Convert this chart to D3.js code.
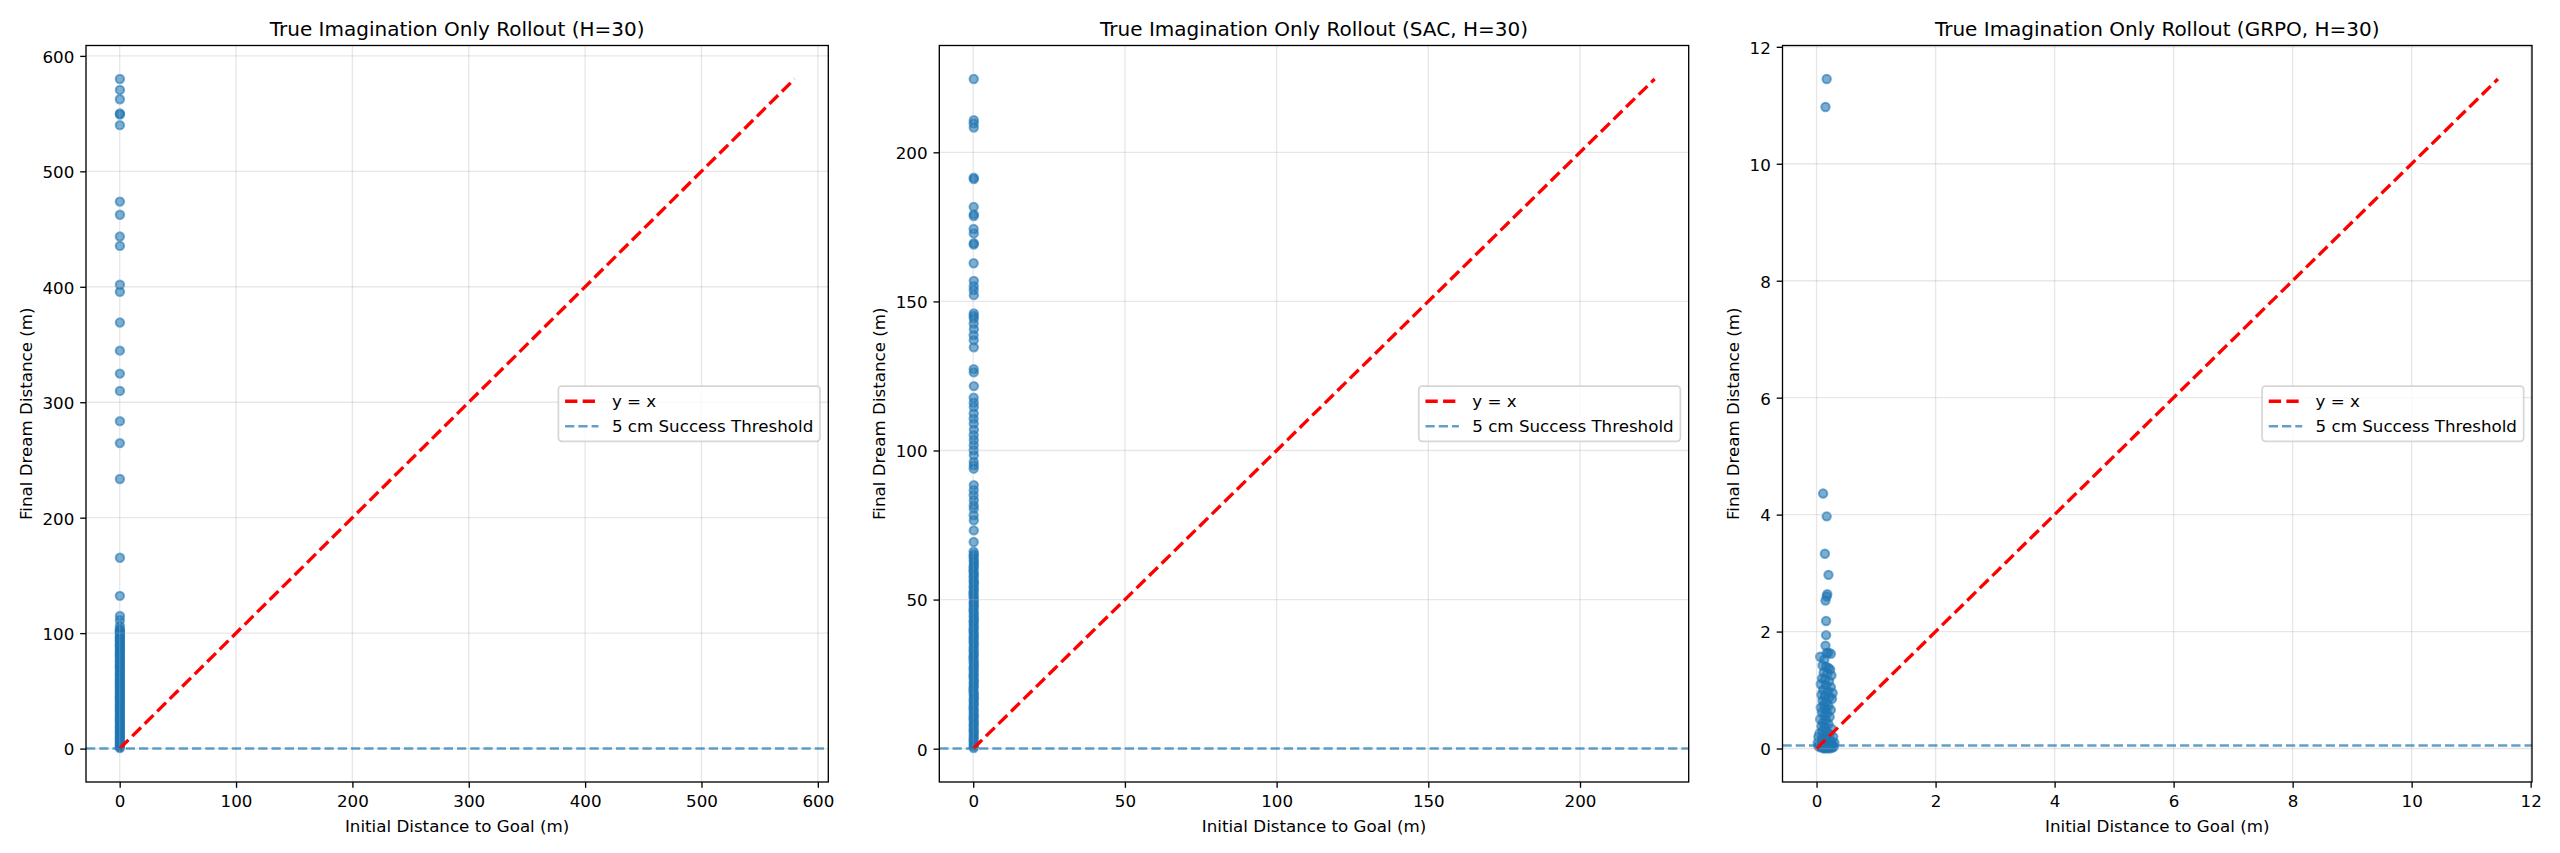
<!DOCTYPE html>
<html>
<head>
<meta charset="utf-8">
<script src="https://cdn.jsdelivr.net/npm/d3@7"></script>
<style>
  body { margin: 0; background: #fff; }
  text { font-family: "DejaVu Sans", sans-serif; }
</style>
</head>
<body>
<svg id="chart" width="2560" height="853"></svg>
<script>
// ---- data ----
const titles = [
  "True Imagination Only Rollout (H=30)",
  "True Imagination Only Rollout (SAC, H=30)",
  "True Imagination Only Rollout (GRPO, H=30)"
];
const xLabel = "Initial Distance to Goal (m)";
const yLabel = "Final Dream Distance (m)";
const legendLabels = ["y = x", "5 cm Success Threshold"];
const successThreshold = 0.05; // 5 cm

const ticks1 = [0, 100, 200, 300, 400, 500, 600];
const ticks2 = [0, 50, 100, 150, 200];
const ticks3 = [0, 2, 4, 6, 8, 10, 12];

// [initial distance, final dream distance]
const rolloutBase = [
  [0.18, 580], [0.21, 570.5], [0.15, 562.4], [0.19, 550.1], [0.2, 549.2], [0.17, 540],
  [0.16, 473.8], [0.22, 462.4], [0.14, 443.5], [0.19, 435.4], [0.2, 401.8], [0.18, 395.7],
  [0.21, 369], [0.15, 344.7], [0.17, 324.8], [0.2, 309.8], [0.19, 283.6], [0.16, 264.6],
  [0.18, 233.5], [0.2, 165.3], [0.15, 132.3], [0.22, 114.8], [0.17, 111.1], [0.19, 106.2],
  [0.12, 103.4], [0.25, 102.6], [0.09, 101.1], [0.2, 100.3], [0.16, 99.2], [0.28, 97.8],
  [0.13, 96.5], [0.21, 95.9], [0.07, 94.1], [0.18, 93.0], [0.24, 91.7], [0.11, 90.2],
  [0.19, 89.5], [0.15, 88.1], [0.27, 86.6], [0.1, 85.3], [0.22, 84.0], [0.17, 82.9],
  [0.05, 81.2], [0.2, 80.1], [0.14, 78.8], [0.26, 77.5], [0.12, 76.0], [0.18, 74.9],
  [0.23, 73.3], [0.08, 72.0], [0.16, 70.6], [0.21, 69.8], [0.13, 68.2], [0.29, 66.9],
  [0.1, 65.4], [0.19, 64.1], [0.15, 62.9], [0.24, 61.5], [0.06, 60.0], [0.17, 58.8],
  [0.22, 57.2], [0.12, 56.1], [0.2, 54.6], [0.09, 53.3], [0.26, 52.0], [0.14, 50.7],
  [0.18, 49.1], [0.11, 47.9], [0.23, 46.4], [0.16, 45.2], [0.07, 43.8], [0.2, 42.5],
  [0.13, 41.0], [0.27, 39.7], [0.1, 38.3], [0.19, 37.0], [0.15, 35.6], [0.22, 34.2],
  [0.08, 33.1], [0.17, 31.6], [0.25, 30.3], [0.12, 28.9], [0.2, 27.5], [0.14, 26.4],
  [0.06, 24.8], [0.21, 23.6], [0.16, 22.1], [0.28, 20.9], [0.11, 19.4], [0.18, 18.0],
  [0.23, 16.8], [0.09, 15.3], [0.15, 14.1], [0.2, 12.6], [0.13, 11.2], [0.26, 10.0],
  [0.07, 8.7], [0.17, 7.3], [0.22, 6.1], [0.12, 4.8], [0.19, 3.5], [0.1, 2.4],
  [0.24, 1.2], [0.15, 0.4]
];

const rolloutSac = [
  [0.18, 224.6], [0.2, 210.8], [0.15, 209.7], [0.19, 208.3], [0.17, 191.5], [0.21, 191.0],
  [0.16, 181.7], [0.2, 179.2], [0.18, 178.6], [0.14, 174.3], [0.19, 172.8], [0.22, 169.5],
  [0.17, 169.1], [0.15, 162.8], [0.2, 156.9], [0.18, 155.1], [0.16, 153.8], [0.21, 152.1],
  [0.19, 146.0], [0.15, 145.1], [0.2, 144.3], [0.17, 142.6], [0.22, 140.7], [0.14, 138.7],
  [0.18, 137.0], [0.2, 134.6], [0.16, 127.3], [0.19, 126.2], [0.21, 121.6], [0.15, 117.7],
  [0.18, 116.0], [0.2, 114.6], [0.17, 112.4], [0.14, 110.7], [0.19, 109.0], [0.22, 107.0],
  [0.16, 105.1], [0.2, 103.5], [0.18, 101.8], [0.15, 100.1], [0.21, 98.4], [0.17, 96.2],
  [0.19, 95.0], [0.16, 93.9], [0.2, 88.4], [0.18, 86.7], [0.14, 85.0], [0.21, 83.3],
  [0.17, 81.6], [0.19, 80.5], [0.15, 78.3], [0.2, 76.6], [0.18, 73.2], [0.16, 69.3],
  [0.12, 66.1], [0.25, 65.2], [0.09, 64.6], [0.2, 63.7], [0.16, 62.9], [0.27, 62.2],
  [0.13, 61.3], [0.21, 60.7], [0.07, 59.8], [0.18, 59.0], [0.24, 58.3], [0.11, 57.6],
  [0.19, 56.6], [0.15, 55.9], [0.28, 55.3], [0.1, 54.4], [0.22, 53.6], [0.17, 52.8],
  [0.05, 52.1], [0.2, 51.3], [0.14, 50.7], [0.26, 49.7], [0.12, 49.0], [0.18, 48.2],
  [0.23, 47.6], [0.08, 46.7], [0.16, 45.9], [0.21, 45.2], [0.13, 44.3], [0.29, 43.5],
  [0.1, 42.8], [0.19, 42.1], [0.15, 41.2], [0.24, 40.4], [0.06, 39.7], [0.17, 38.8],
  [0.22, 38.1], [0.12, 37.3], [0.2, 36.7], [0.09, 35.8], [0.26, 35.1], [0.14, 34.2],
  [0.18, 33.4], [0.11, 32.7], [0.23, 31.8], [0.16, 31.1], [0.07, 30.5], [0.2, 29.6],
  [0.13, 28.9], [0.27, 28.0], [0.1, 27.2], [0.19, 26.6], [0.15, 25.7], [0.22, 24.9],
  [0.08, 24.3], [0.17, 23.4], [0.25, 22.6], [0.12, 21.9], [0.2, 21.0], [0.14, 20.4],
  [0.06, 19.5], [0.21, 18.7], [0.16, 18.0], [0.28, 17.1], [0.11, 16.5], [0.18, 15.6],
  [0.23, 14.9], [0.09, 14.1], [0.15, 13.2], [0.2, 12.6], [0.13, 11.7], [0.26, 10.9],
  [0.07, 10.3], [0.17, 9.4], [0.22, 8.6], [0.12, 7.9], [0.19, 7.1], [0.1, 6.2],
  [0.24, 5.5], [0.15, 4.7], [0.2, 3.8], [0.11, 3.1], [0.18, 2.3], [0.14, 1.5],
  [0.21, 0.8], [0.16, 0.2]
];

const rolloutGrpo = [
  [0.17, 11.45], [0.15, 10.97], [0.11, 4.36], [0.17, 3.97], [0.14, 3.33], [0.2, 2.97],
  [0.18, 2.64], [0.17, 2.6], [0.15, 2.53], [0.16, 2.18], [0.16, 1.94], [0.15, 1.76],
  [0.06, 1.57], [0.17, 1.63], [0.2, 1.64], [0.24, 1.62], [0.13, 1.52], [0.1, 1.42],
  [0.16, 1.4], [0.2, 1.38], [0.23, 1.35], [0.12, 1.3], [0.18, 1.28], [0.25, 1.25],
  [0.09, 1.2], [0.14, 1.18], [0.21, 1.15], [0.07, 1.1], [0.16, 1.08], [0.24, 1.05],
  [0.11, 1.0], [0.19, 0.98], [0.27, 0.95], [0.08, 0.92], [0.14, 0.9], [0.22, 0.88],
  [0.26, 0.85], [0.1, 0.82], [0.17, 0.8], [0.12, 0.75], [0.2, 0.73], [0.07, 0.7],
  [0.15, 0.68], [0.24, 0.66], [0.09, 0.62], [0.18, 0.6], [0.13, 0.56], [0.22, 0.54],
  [0.06, 0.5], [0.16, 0.48], [0.11, 0.44], [0.2, 0.42], [0.08, 0.38], [0.14, 0.36],
  [0.25, 0.34], [0.1, 0.3], [0.18, 0.28], [0.05, 0.26], [0.22, 0.24], [0.13, 0.22],
  [0.03, 0.2], [0.28, 0.2], [0.16, 0.18], [0.08, 0.16], [0.2, 0.14], [0.25, 0.12],
  [0.11, 0.12], [0.02, 0.1], [0.3, 0.1], [0.15, 0.09], [0.06, 0.07], [0.22, 0.07],
  [0.27, 0.06], [0.12, 0.05], [0.18, 0.04], [0.03, 0.04], [0.09, 0.03], [0.24, 0.03],
  [0.29, 0.03], [0.15, 0.02], [0.2, 0.02], [0.06, 0.02], [0.26, 0.01], [0.11, 0.01],
  [0.17, 0.01], [0.21, 0.0], [0.13, 0.0]
];

// ---- layout ----
const frames = [
  { left: 86, right: 828.3 },
  { left: 939.3, right: 1688.7 },
  { left: 1782.5, right: 2532 }
];
const plotTop = 45.5;
const plotBottom = 782;
const fs = 16.7;      // 10pt
const titleFs = 20;   // 12pt
const blue = "#1f77b4";

const panels = [
  { title: titles[0], pts: rolloutBase, ticks: ticks1 },
  { title: titles[1], pts: rolloutSac, ticks: ticks2 },
  { title: titles[2], pts: rolloutGrpo, ticks: ticks3 }
];

const svg = d3.select("#chart");

panels.forEach((p, i) => {
  const f = frames[i];
  const lo = d3.min(p.pts, d => Math.min(d[0], d[1]));
  const hi = d3.max(p.pts, d => Math.max(d[0], d[1]));
  const pad = (hi - lo) * 0.05;

  const x = d3.scaleLinear().domain([lo - pad, hi + pad]).range([f.left, f.right]);
  const y = d3.scaleLinear().domain([lo - pad, hi + pad]).range([plotBottom, plotTop]);

  const g = svg.append("g");

  const clipId = "clip" + i;
  svg.append("clipPath").attr("id", clipId)
    .append("rect")
    .attr("x", f.left).attr("y", plotTop)
    .attr("width", f.right - f.left).attr("height", plotBottom - plotTop);

  const plot = g.append("g").attr("clip-path", `url(#${clipId})`);

  // scatter
  plot.append("g")
    .selectAll("circle")
    .data(p.pts)
    .enter().append("circle")
    .attr("cx", d => x(d[0]))
    .attr("cy", d => y(d[1]))
    .attr("r", 4.2)
    .attr("fill", blue)
    .attr("fill-opacity", 0.6)
    .attr("stroke", blue)
    .attr("stroke-opacity", 0.6)
    .attr("stroke-width", 2);

  // grid (drawn above the scatter like matplotlib)
  const grid = plot.append("g")
    .attr("stroke", "#b0b0b0")
    .attr("stroke-opacity", 0.3)
    .attr("stroke-width", 1.33);
  grid.selectAll("line.v").data(p.ticks).enter().append("line")
    .attr("x1", d => x(d)).attr("x2", d => x(d))
    .attr("y1", plotTop).attr("y2", plotBottom);
  grid.selectAll("line.h").data(p.ticks).enter().append("line")
    .attr("y1", d => y(d)).attr("y2", d => y(d))
    .attr("x1", f.left).attr("x2", f.right);

  // y = x reference
  plot.append("line")
    .attr("x1", x(lo)).attr("y1", y(lo))
    .attr("x2", x(hi)).attr("y2", y(hi))
    .attr("stroke", "red")
    .attr("stroke-width", 3.33)
    .attr("stroke-dasharray", "12.3,5.3");

  // success threshold
  plot.append("line")
    .attr("x1", f.left).attr("x2", f.right)
    .attr("y1", y(successThreshold)).attr("y2", y(successThreshold))
    .attr("stroke", blue)
    .attr("stroke-opacity", 0.7)
    .attr("stroke-width", 2.5)
    .attr("stroke-dasharray", "9.25,4");

  // axes
  const xAxis = g.append("g")
    .attr("transform", `translate(0,${plotBottom})`)
    .call(d3.axisBottom(x).tickValues(p.ticks).tickFormat(d3.format("d"))
      .tickSize(5.8).tickPadding(7.6));
  const yAxis = g.append("g")
    .attr("transform", `translate(${f.left},0)`)
    .call(d3.axisLeft(y).tickValues(p.ticks).tickFormat(d3.format("d"))
      .tickSize(5.8).tickPadding(5.9));

  [xAxis, yAxis].forEach(a => {
    a.select(".domain").remove();
    a.attr("font-size", fs).attr("font-family", "DejaVu Sans");
    a.selectAll(".tick line").attr("stroke", "#000").attr("stroke-width", 1.33);
    a.selectAll(".tick text").attr("fill", "#000");
  });
  yAxis.selectAll(".tick text").attr("dy", "0.38em");

  // frame
  g.append("rect")
    .attr("x", f.left).attr("y", plotTop)
    .attr("width", f.right - f.left).attr("height", plotBottom - plotTop)
    .attr("fill", "none")
    .attr("stroke", "#000")
    .attr("stroke-width", 1.33);

  const cx = (f.left + f.right) / 2;
  const cy = (plotTop + plotBottom) / 2;

  g.append("text")
    .attr("x", cx).attr("y", plotTop - 10)
    .attr("text-anchor", "middle")
    .attr("font-size", titleFs)
    .text(p.title);

  g.append("text")
    .attr("x", cx).attr("y", 832)
    .attr("text-anchor", "middle")
    .attr("font-size", fs)
    .text(xLabel);

  let maxW = 0;
  yAxis.selectAll(".tick text").each(function () {
    maxW = Math.max(maxW, this.getComputedTextLength());
  });
  const ylx = f.left - 11.7 - maxW - 6.7 - 3.9;
  g.append("text")
    .attr("transform", `translate(${ylx},${cy}) rotate(-90)`)
    .attr("text-anchor", "middle")
    .attr("font-size", fs)
    .text(yLabel);

  // legend (center right)
  const lg = g.append("g");
  const labels = lg.selectAll("text").data(legendLabels).enter().append("text")
    .attr("font-size", fs)
    .text(d => d);
  let textW = 0;
  labels.each(function () { textW = Math.max(textW, this.getComputedTextLength()); });
  const bp = 6.7, hl = 33.4, htp = 13.4, rowH = 16.7, ls = 8.35;
  const lw = bp + hl + htp + textW + bp;
  const lh = bp * 2 + rowH * 2 + ls;
  const lx = f.right - 8.35 - lw;
  const ly = cy - lh / 2;
  lg.insert("rect", "text")
    .attr("x", lx).attr("y", ly)
    .attr("width", lw).attr("height", lh)
    .attr("rx", 3.3).attr("ry", 3.3)
    .attr("fill", "#fff").attr("fill-opacity", 0.8)
    .attr("stroke", "#cccccc").attr("stroke-opacity", 0.8)
    .attr("stroke-width", 1.67);
  const rowY = k => ly + bp + rowH / 2 + k * (rowH + ls);
  labels.attr("x", lx + bp + hl + htp).attr("y", (d, k) => rowY(k) + 5.8);
  lg.append("line")
    .attr("x1", lx + bp).attr("x2", lx + bp + hl)
    .attr("y1", rowY(0)).attr("y2", rowY(0))
    .attr("stroke", "red").attr("stroke-width", 3.33)
    .attr("stroke-dasharray", "12.3,5.3");
  lg.append("line")
    .attr("x1", lx + bp).attr("x2", lx + bp + hl)
    .attr("y1", rowY(1)).attr("y2", rowY(1))
    .attr("stroke", blue).attr("stroke-opacity", 0.7).attr("stroke-width", 2.5)
    .attr("stroke-dasharray", "9.25,4");
});
</script>
</body>
</html>
